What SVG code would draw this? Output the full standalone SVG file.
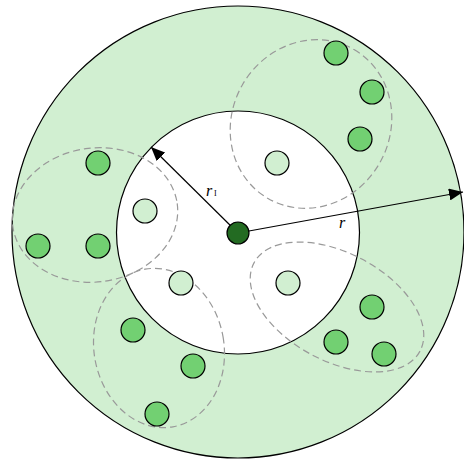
<svg xmlns="http://www.w3.org/2000/svg" width="464" height="461" viewBox="0 0 464 461">
<style>
.ring{fill:#d1efd1;stroke:#000;stroke-width:1.2}
.hole{fill:#fff;stroke:#000;stroke-width:1.2}
.grp{fill:none;stroke:#999;stroke-width:1.2;stroke-dasharray:7 4}
.out{fill:#72d072;stroke:#000;stroke-width:1.2}
.in{fill:#d1efd1;stroke:#000;stroke-width:1.2}
.ctr{fill:#236b22;stroke:#000;stroke-width:1.2}
.arr{stroke:#000;stroke-width:1.2;fill:none;marker-end:url(#ah)}
.lbl{font-family:"Liberation Serif",serif;font-style:italic;font-size:16px;fill:#000}
.sub{font-family:"Liberation Serif",serif;font-size:8px;fill:#000}
</style>
<defs>
<marker id="ah" viewBox="0 0 14 12" refX="14" refY="6" markerWidth="14" markerHeight="12" markerUnits="userSpaceOnUse" orient="auto">
<path d="M0,0 L14,6 L0,12 z" fill="#000"/>
</marker>
</defs>
<g id="outer"><circle class="ring" cx="238" cy="232" r="226"/></g>
<g id="inner"><circle class="hole" cx="238" cy="232.5" r="121.5"/></g>
<g id="groups">
<ellipse class="grp" cx="311" cy="124" rx="86" ry="79" transform="rotate(-60 311 124)"/>
<ellipse class="grp" cx="95" cy="215" rx="83" ry="67" transform="rotate(-8 95 215)"/>
<ellipse class="grp" cx="159" cy="348" rx="65" ry="80" transform="rotate(-10 159 348)"/>
<ellipse class="grp" cx="337" cy="307" rx="94" ry="54" transform="rotate(28 337 307)"/>
</g>
<g id="connectors">
<line class="arr" x1="238" y1="233" x2="151" y2="147"/>
<line class="arr" x1="238" y1="233" x2="463" y2="192"/>
</g>
<g id="n-top1"><circle class="out" cx="336" cy="53" r="12"/></g>
<g id="n-top2"><circle class="out" cx="372" cy="92" r="12"/></g>
<g id="n-top3"><circle class="out" cx="360" cy="139" r="12"/></g>
<g id="n-top4"><circle class="in" cx="277" cy="163" r="12"/></g>
<g id="n-left1"><circle class="out" cx="98" cy="163" r="12"/></g>
<g id="n-left2"><circle class="out" cx="38" cy="246" r="12"/></g>
<g id="n-left3"><circle class="out" cx="98" cy="246" r="12"/></g>
<g id="n-left4"><circle class="in" cx="145" cy="211" r="12"/></g>
<g id="n-bl1"><circle class="in" cx="181" cy="283" r="12"/></g>
<g id="n-bl2"><circle class="out" cx="133" cy="330" r="12"/></g>
<g id="n-bl3"><circle class="out" cx="193" cy="366" r="12"/></g>
<g id="n-bl4"><circle class="out" cx="157" cy="414" r="12"/></g>
<g id="n-br1"><circle class="in" cx="288" cy="283" r="12"/></g>
<g id="n-br2"><circle class="out" cx="372" cy="307" r="12"/></g>
<g id="n-br3"><circle class="out" cx="336" cy="342" r="12"/></g>
<g id="n-br4"><circle class="out" cx="384" cy="354" r="12"/></g>
<g id="center"><circle class="ctr" cx="238" cy="233" r="11"/></g>
<g id="labels">
<text class="lbl" x="206" y="196">r</text>
<text class="sub" x="214" y="196">I</text>
<text class="lbl" x="339" y="228">r</text>
</g>
</svg>
